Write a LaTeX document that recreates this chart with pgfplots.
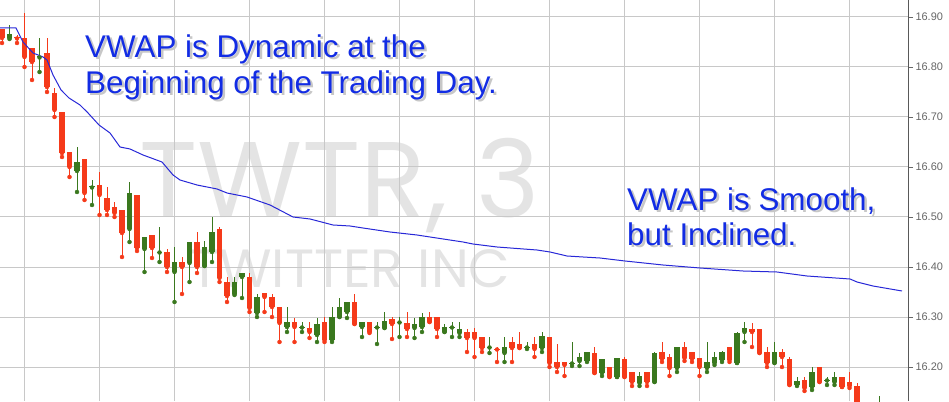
\documentclass[border=0pt]{standalone}
\usepackage{fontspec}
\setmainfont{Liberation Sans}
\newfontfamily\wmfont{Poppins}
\usepackage{pgfplots}
\usepackage{pgfplotstable}
\pgfplotsset{compat=1.18}

\definecolor{upc}{RGB}{58,120,30}
\definecolor{dnc}{RGB}{245,58,26}
\definecolor{vwapc}{RGB}{40,40,215}
\definecolor{txtc}{RGB}{18,44,228}
\definecolor{gridc}{RGB}{200,200,200}
\definecolor{wmc}{RGB}{228,228,228}

% 3-minute candles: index, open, high, low, close
\pgfplotstableread{
i o h l c
0 16.876 16.876 16.848 16.858
1 16.858 16.884 16.856 16.866
2 16.859 16.864 16.848 16.857
3 16.858 16.908 16.800 16.820
4 16.838 16.838 16.774 16.810
5 16.819 16.858 16.790 16.820
6 16.828 16.858 16.750 16.760
7 16.748 16.758 16.700 16.714
8 16.710 16.710 16.620 16.628
9 16.630 16.630 16.580 16.600
10 16.592 16.640 16.550 16.610
11 16.616 16.616 16.534 16.548
12 16.559 16.574 16.524 16.560
13 16.564 16.590 16.504 16.544
14 16.538 16.560 16.504 16.514
15 16.520 16.530 16.500 16.508
16 16.514 16.514 16.420 16.468
17 16.476 16.570 16.450 16.548
18 16.544 16.544 16.432 16.438
19 16.436 16.460 16.390 16.460
20 16.464 16.464 16.418 16.438
21 16.429 16.480 16.410 16.430
22 16.430 16.436 16.390 16.400
23 16.390 16.440 16.330 16.410
24 16.410 16.420 16.346 16.400
25 16.408 16.450 16.370 16.450
26 16.450 16.470 16.388 16.400
27 16.402 16.452 16.402 16.440
28 16.430 16.500 16.410 16.470
29 16.476 16.480 16.370 16.378
30 16.370 16.380 16.330 16.342
31 16.346 16.380 16.344 16.370
32 16.380 16.388 16.338 16.388
33 16.380 16.388 16.310 16.318
34 16.308 16.346 16.300 16.340
35 16.348 16.348 16.310 16.340
36 16.340 16.346 16.300 16.320
37 16.320 16.320 16.250 16.288
38 16.280 16.320 16.270 16.290
39 16.290 16.298 16.250 16.280
40 16.279 16.290 16.270 16.280
41 16.278 16.290 16.258 16.270
42 16.264 16.298 16.250 16.286
43 16.290 16.300 16.250 16.254
44 16.254 16.320 16.250 16.300
45 16.300 16.338 16.300 16.320
46 16.310 16.330 16.298 16.330
47 16.330 16.346 16.286 16.286
48 16.280 16.290 16.260 16.290
49 16.290 16.290 16.268 16.270
50 16.279 16.290 16.246 16.280
51 16.278 16.310 16.278 16.292
52 16.296 16.300 16.256 16.286
53 16.289 16.300 16.260 16.290
54 16.288 16.310 16.260 16.276
55 16.278 16.298 16.258 16.286
56 16.280 16.308 16.270 16.300
57 16.300 16.310 16.290 16.290
58 16.300 16.300 16.260 16.276
59 16.270 16.286 16.270 16.280
60 16.279 16.290 16.260 16.280
61 16.268 16.290 16.260 16.276
62 16.270 16.276 16.230 16.258
63 16.270 16.278 16.220 16.258
64 16.260 16.260 16.230 16.238
65 16.239 16.260 16.228 16.240
66 16.237 16.240 16.210 16.235
67 16.228 16.260 16.210 16.240
68 16.250 16.260 16.210 16.238
69 16.246 16.270 16.238 16.238
70 16.239 16.250 16.236 16.240
71 16.246 16.260 16.220 16.236
72 16.238 16.270 16.230 16.262
73 16.260 16.260 16.200 16.208
74 16.210 16.246 16.190 16.200
75 16.210 16.210 16.182 16.204
76 16.207 16.250 16.202 16.208
77 16.212 16.228 16.202 16.220
78 16.212 16.230 16.210 16.230
79 16.228 16.240 16.188 16.188
80 16.188 16.216 16.182 16.216
81 16.200 16.200 16.180 16.180
82 16.180 16.218 16.180 16.218
83 16.216 16.220 16.180 16.180
84 16.190 16.190 16.162 16.170
85 16.168 16.190 16.162 16.182
86 16.190 16.190 16.162 16.170
87 16.170 16.230 16.170 16.228
88 16.230 16.250 16.210 16.216
89 16.220 16.226 16.182 16.198
90 16.198 16.240 16.190 16.240
91 16.240 16.250 16.212 16.218
92 16.230 16.230 16.210 16.216
93 16.218 16.218 16.182 16.200
94 16.198 16.250 16.190 16.210
95 16.208 16.230 16.204 16.220
96 16.214 16.232 16.210 16.230
97 16.240 16.240 16.210 16.214
98 16.208 16.270 16.208 16.268
99 16.270 16.290 16.250 16.278
100 16.276 16.288 16.240 16.270
101 16.276 16.276 16.228 16.228
102 16.230 16.240 16.200 16.208
103 16.208 16.250 16.208 16.230
104 16.230 16.236 16.200 16.220
105 16.216 16.220 16.164 16.164
106 16.164 16.180 16.162 16.172
107 16.174 16.180 16.152 16.158
108 16.160 16.200 16.154 16.190
109 16.200 16.200 16.170 16.170
110 16.173 16.180 16.164 16.174
111 16.170 16.190 16.164 16.180
112 16.180 16.180 16.160 16.160
113 16.170 16.190 16.158 16.162
114 16.162 16.168 16.104 16.114
115 16.114 16.124 16.074 16.084
116 16.084 16.104 16.074 16.098
117 16.094 16.142 16.084 16.124
}\candles

% VWAP line
\pgfplotstableread{
i v
-0.27 16.878
1.87 16.878
2.8 16.850
4.13 16.828
5.47 16.820
6.0 16.814
6.8 16.784
7.87 16.754
8.93 16.738
10.4 16.724
11.47 16.708
12.93 16.684
14.4 16.668
15.73 16.640
17.07 16.636
18.8 16.624
21.33 16.610
22.8 16.584
23.73 16.574
26.0 16.564
28.67 16.556
30.0 16.548
32.67 16.540
35.73 16.524
38.8 16.500
41.07 16.496
44.13 16.484
46.4 16.482
48.13 16.478
51.73 16.470
55.33 16.464
57.07 16.460
61.47 16.450
62.8 16.446
66.0 16.440
71.33 16.434
73.07 16.430
75.33 16.422
77.47 16.420
79.73 16.418
83.07 16.412
88.13 16.404
93.07 16.398
98.8 16.392
103.33 16.390
107.33 16.382
113.07 16.376
114.0 16.370
116.13 16.362
120.0 16.352
}\vwap

\pgfplotsset{
  wick/.style={only marks, mark=none, forget plot,
    error bars/y dir=plus, error bars/y explicit, error bars/error mark=none,
    error bars/error bar style={line width=1bp, #1}},
  body/.style={only marks, mark=none, forget plot,
    error bars/y dir=plus, error bars/y explicit, error bars/error mark=none,
    error bars/error bar style={line width=5.5bp, #1}},
  down/.style={y filter/.expression={\thisrow{c}<\thisrow{o} ? y : nan}},
  up/.style={y filter/.expression={\thisrow{c}<\thisrow{o} ? nan : y}},
}

\begin{document}
\begin{tikzpicture}[x=1bp,y=1bp]
\useasboundingbox (0,0) rectangle (949,401);

% watermark
\node[text=wmc, anchor=base west, inner sep=0, font=\wmfont\fontsize{108}{108}\selectfont] at (139,184) {TWTR, 3};
\node[text=wmc, anchor=base west, inner sep=0, font=\wmfont\fontsize{54}{54}\selectfont] at (190,114) {TWITTER INC};

\begin{axis}[
  scale only axis, width=908bp, height=401bp,
  at={(0,0)}, anchor=south west,
  xmin=-0.27, xmax=120.8, ymin=16.132, ymax=16.934,
  axis x line*=bottom, axis y line*=right, axis line style={-},
  x axis line style={draw=none},
  y axis line style={draw=black!65},
  xtick={3,13,...,113}, xticklabels={}, xtick style={draw=none},
  ytick={16.2,16.3,16.4,16.5,16.6,16.7,16.8,16.9},
  grid=major, major grid style={gridc, line width=1bp},
  tick align=outside, major tick length=5bp,
  ytick style={black!60, line width=0.8bp},
  yticklabel style={font=\fontsize{11}{11}\selectfont, text=black!60, xshift=-1bp,
    /pgf/number format/.cd, fixed, fixed zerofill, precision=2},
  /pgf/number format/assume math mode=true,
]
% red candles
\addplot[dnc, down, wick=dnc]
  table[x=i, y=l, y error plus expr=\thisrow{h}-\thisrow{l}] {\candles};
\addplot[dnc, down, body=dnc]
  table[x=i, y expr={min(\thisrow{o},\thisrow{c})},
        y error plus expr={max(abs(\thisrow{c}-\thisrow{o}),0.002)}] {\candles};
% green candles
\addplot[upc, up, wick=upc]
  table[x=i, y=l, y error plus expr=\thisrow{h}-\thisrow{l}] {\candles};
\addplot[upc, up, body=upc]
  table[x=i, y expr={min(\thisrow{o},\thisrow{c})},
        y error plus expr={max(abs(\thisrow{c}-\thisrow{o}),0.002)}] {\candles};
% vwap
\addplot[vwapc, line width=1bp, no marks] table[x=i, y=v] {\vwap};
\end{axis}

% annotations, with a soft grey drop shadow
\begin{scope}[every node/.style={anchor=base west, inner sep=0, font=\fontsize{31.5}{36}\selectfont}]
\node[text=black!22] at (87.5,341.5) {VWAP is Dynamic at the};
\node[text=black!22] at (87.5,305.5) {Beginning of the Trading Day.};
\node[text=black!22] at (629.5,188.5) {VWAP is Smooth,};
\node[text=black!22] at (629.5,153.5) {but Inclined.};
\node[text=txtc] at (85,344) {VWAP is Dynamic at the};
\node[text=txtc] at (85,308) {Beginning of the Trading Day.};
\node[text=txtc] at (627,191) {VWAP is Smooth,};
\node[text=txtc] at (627,156) {but Inclined.};
\end{scope}
\end{tikzpicture}
\end{document}
